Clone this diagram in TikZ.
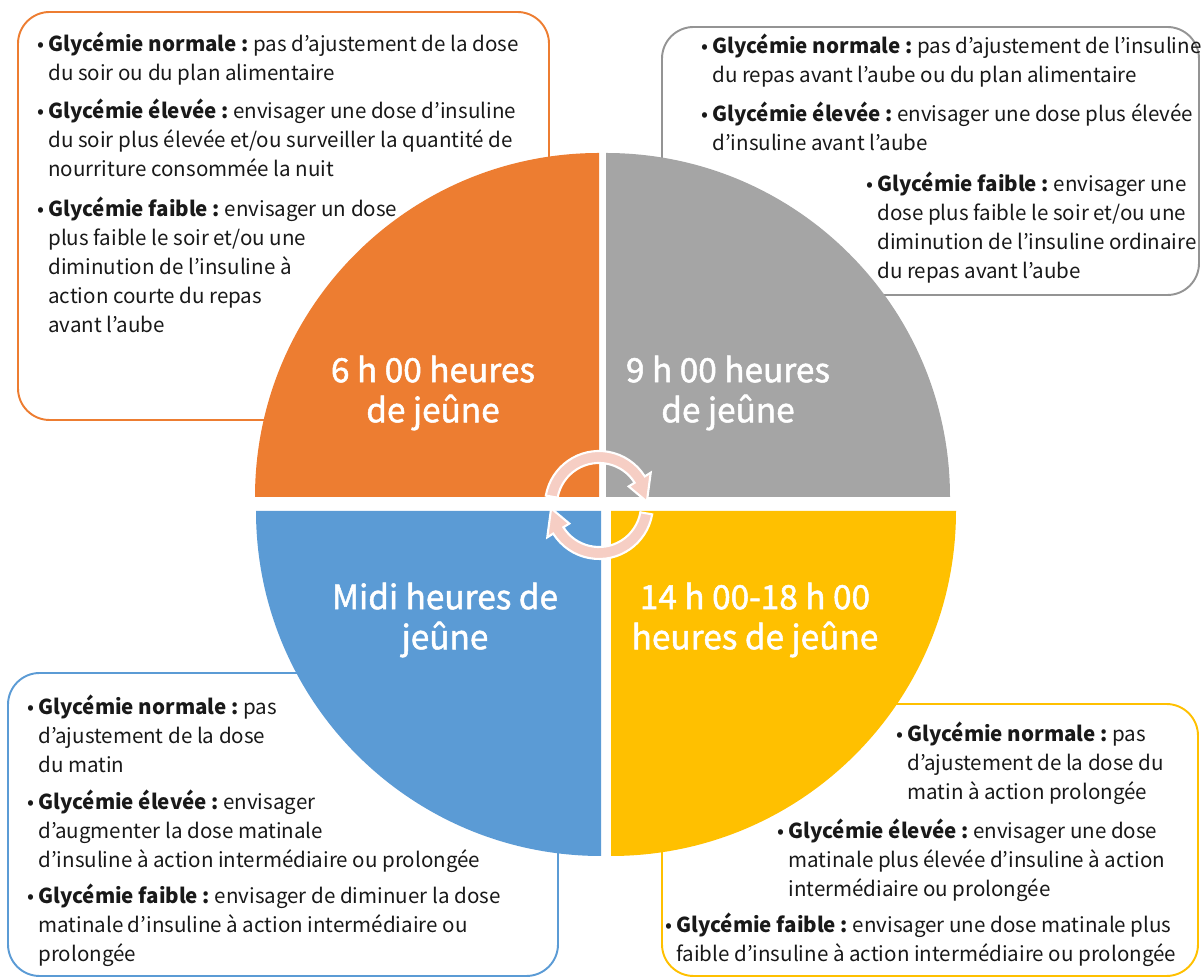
\documentclass[tikz,border=0pt]{standalone}
\usepackage{fontspec}
\setmainfont{Noto Sans CJK KR}
\newfontfamily\quadfont[FakeBold=1.5]{Noto Sans CJK KR}
\frenchspacing
\definecolor{qorange}{RGB}{237,125,49}
\definecolor{qgray}{RGB}{165,165,165}
\definecolor{qblue}{RGB}{91,155,213}
\definecolor{qyellow}{RGB}{255,192,0}
\definecolor{qpink}{RGB}{246,206,196}
\newcommand\glyc[1]{\llap{•\,}\textbf{Glycémie #1 :}}
\tikzset{
    item/.style={anchor=base west, inner sep=0pt, align=left, text=black!90, font=\fontsize{11.7}{16.4}\selectfont},
    quadtext/.style={text=white, align=center, font=\quadfont\fontsize{19}{22.8}\selectfont},
    infobox/.style={line width=1.1pt, rounded corners=18pt, fill=white},
    cyclearrow/.style={fill=qpink, draw=white, line width=1.2pt, line join=miter}
}
\begin{document}
\begin{tikzpicture}[x=0.02cm, y=0.02cm]
            \useasboundingbox (0,0) rectangle (1201,980);
            \draw[infobox, draw=qorange] (18,560) rectangle (549,968);
            \draw[infobox, draw=qgray!90!black] (662,685) rectangle (1199,953);
            \draw[infobox, draw=qblue] (8,4) rectangle (558,307);
            \draw[infobox, draw=qyellow] (662,4) rectangle (1198,276);
            \fill[qorange] (599,483) -- ++(-344,0) arc[start angle=180, end angle=90, radius=344] -- cycle;
            \fill[qgray] (606,483) -- ++(0,344) arc[start angle=90, end angle=0, radius=344] -- cycle;
            \fill[qblue] (601,469) -- ++(0,-345) arc[start angle=270, end angle=180, radius=345] -- cycle;
            \fill[qyellow] (611,469) -- ++(345,0) arc[start angle=0, end angle=-90, radius=345] -- cycle;
            \node(q6) [quadtext] at (433,587) {6 h 00 heures\\de jeûne};
            \node(q9) [quadtext] at (728,587) {9 h 00 heures\\de jeûne};
            \node(q12) [quadtext] at (445,360) {Midi heures de\\jeûne};
            \node(q14) [quadtext] at (755,360) {14 h 00-18 h 00\\heures de jeûne};
            \begin{scope}[shift={(599,475)}]
            \filldraw[cyclearrow] (170:54) arc[start angle=170, end angle=32, radius=54] -- (32:61) -- (4:48) -- (32:35) -- (32:42) arc[start angle=32, end angle=170, radius=42] -- cycle;
            \filldraw[cyclearrow] (-10:54) arc[start angle=-10, end angle=-148, radius=54] -- (-148:61) -- (-176:48) -- (-148:35) -- (-148:42) arc[start angle=-148, end angle=-10, radius=42] -- cycle;
            \end{scope}
            \node(o1) [item] at (48,899.2) {\glyc{normale} pas d’ajustement de la dose\\du soir ou du plan alimentaire};
            \node(o2) [item] at (48,803.4) {\glyc{élevée} envisager une dose d’insuline\\du soir plus élevée et/ou surveiller la quantité de\\nourriture consommée la nuit};
            \node(o3) [item] at (48,647.8) {\glyc{faible} envisager un dose\\plus faible le soir et/ou une\\diminution de l’insuline à\\action courte du repas\\avant l’aube};
            \node(g1) [item] at (712,897.2) {\glyc{normale} pas d’ajustement de l’insuline\\du repas avant l’aube ou du plan alimentaire};
            \node(g2) [item] at (712,829.2) {\glyc{élevée} envisager une dose plus élevée\\d’insuline avant l’aube};
            \node(g3) [item] at (877,701.6) {\glyc{faible} envisager une\\dose plus faible le soir et/ou une\\diminution de l’insuline ordinaire\\du repas avant l’aube};
            \node(b1) [item] at (38,207.4) {\glyc{normale} pas\\d’ajustement de la dose\\du matin};
            \node(b2) [item] at (38,112.4) {\glyc{élevée} envisager\\d’augmenter la dose matinale\\d’insuline à action intermédiaire ou prolongée};
            \node(b3) [item] at (38,18.4) {\glyc{faible} envisager de diminuer la dose\\matinale d’insuline à action intermédiaire ou\\prolongée};
            \node(y1) [item] at (907,180.4) {\glyc{normale} pas\\d’ajustement de la dose du\\matin à action prolongée};
            \node(y2) [item] at (788,83.4) {\glyc{élevée} envisager une dose\\matinale plus élevée d’insuline à action\\intermédiaire ou prolongée};
            \node(y3) [item] at (676,18.2) {\glyc{faible} envisager une dose matinale plus\\faible d’insuline à action intermédiaire ou prolongée};
\end{tikzpicture}
\end{document}
